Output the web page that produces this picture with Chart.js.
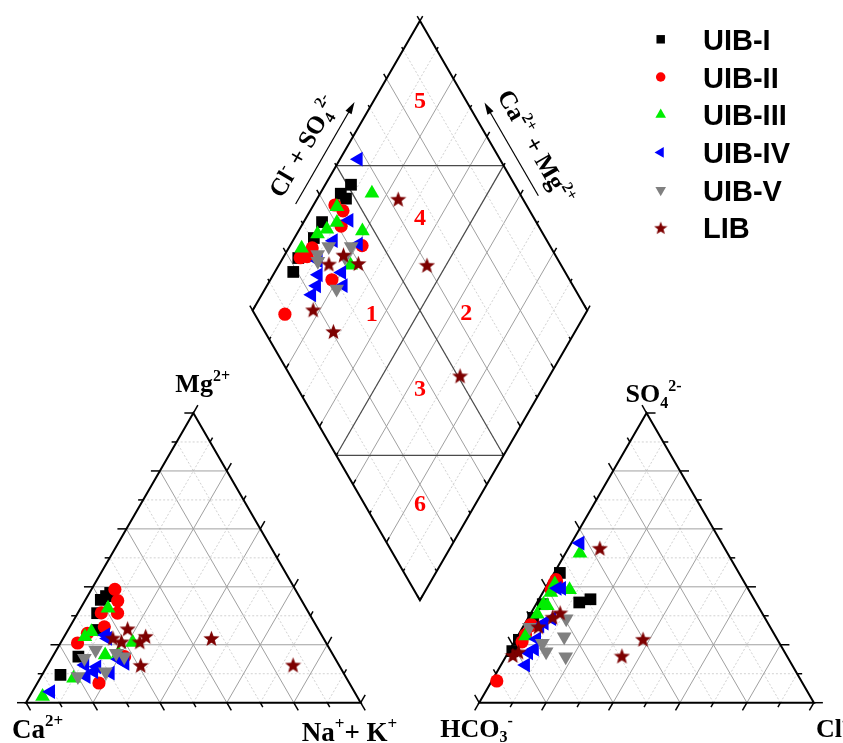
<!DOCTYPE html>
<html>
<head>
<meta charset="utf-8">
<title>Piper diagram</title>
<script src="https://cdn.jsdelivr.net/npm/chart.js@4.4.1/dist/chart.umd.min.js"></script>
<style>
  html, body { margin: 0; padding: 0; background: #fff; }
  canvas { display: block; }
</style>
</head>
<body>
<canvas id="piper" width="843" height="743"></canvas>
<script>
// Piper diagram - cations left, anions right, diamond on top
// values in % meq/L, Ca and HCO3 are what is left to 100

const groupNames = ['UIB-I', 'UIB-II', 'UIB-III', 'UIB-IV', 'UIB-V', 'LIB'];

// UIB-I
const mgI  = [15.9, 25.1, 37.9, 36.8, 30.9, 35.5, 9.6];
const nakI = [7.7, 8.6, 6.2, 5.5, 5.8, 4.6, 5.5];
const so4I = [35.7, 34.6, 44.8, 34.0, 29.3, 21.7, 17.8];
const clI  = [15.4, 12.6, 1.7, 2.0, 1.5, 1.0, 1.0];

// UIB-II
const mgII  = [23.9, 35.2, 30.9, 15.9, 31.0, 39.1, 6.8, 20.6, 26.2];
const nakII = [6.4, 9.8, 11.9, 21.5, 7.0, 7.0, 18.4, 5.1, 10.3];
const so4II = [41.0, 42.5, 39.0, 41.5, 23.5, 26.5, 27.0, 21.0, 7.5];
const clII  = [1.8, 1.7, 2.0, 2.4, 2.1, 2.1, 2.0, 2.3, 1.5];

// UIB-III
const mgIII  = [16.5, 24.5, 8.4, 32.6, 22.8, 17.0, 2.1, 20.8];
const nakIII = [15.4, 7.3, 10.0, 8.2, 6.2, 19.1, 3.9, 21.5];
const so4III = [51.6, 41.0, 38.0, 34.0, 30.5, 39.0, 23.0, 33.5];
const clIII  = [4.3, 2.1, 2.4, 2.2, 2.1, 7.5, 2.4, 3.6];

// UIB-IV
const mgIV  = [3.8, 22.2, 23.4, 13.0, 9.0, 10.7, 12.4, 10.2, 13.6, 15.0];
const nakIV = [5.5, 13.3, 12.1, 11.1, 13.5, 14.9, 15.0, 20.1, 22.8, 20.2];
const so4IV = [55.1, 39.5, 29.0, 22.0, 18.5, 17.2, 13.0, 27.5, 26.5, 39.5];
const clIV  = [2.6, 4.9, 7.2, 6.2, 7.3, 6.2, 7.4, 5.7, 4.9, 3.6];

// UIB-V
const mgV  = [18.2, 15.3, 17.1, 15.9, 10.7, 9.0];
const nakV = [11.7, 9.8, 18.4, 21.4, 18.4, 11.0];
const so4V = [15.9, 20.5, 29.0, 17.6, 22.8, 26.0];
const clV  = [17.9, 8.6, 11.5, 11.2, 14.0, 2.0];

// LIB
const mgL  = [22.9, 22.2, 21.0, 25.5, 22.3, 21.0, 12.9, 13.0];
const nakL = [24.3, 44.3, 23.5, 17.6, 14.8, 18.0, 27.8, 73.3];
const so4L = [53.3, 21.9, 31.0, 29.5, 26.2, 16.3, 17.5, 16.1];
const clL  = [9.4, 38.0, 8.7, 7.2, 4.6, 1.9, 3.0, 34.6];

// geometry in diagram units (triangle side = 100)
const S = Math.sqrt(3) / 2;
const GAP = 35.4;
const AX = 100 + GAP;          // left corner of anion triangle
const BX = 100 + GAP / 2;      // bottom corner of diamond
const BY = GAP * S;

const cat = (mg, nak) => ({ x: nak + mg / 2, y: mg * S });
const ani = (so4, cl) => ({ x: AX + cl + so4 / 2, y: so4 * S });
const dia = (cm, cs) => ({ x: BX + (cs - cm) / 2, y: BY + (cs + cm) * S });

const piperPoints = (mg, nak, so4, cl) => {
    let pts = [];
    mg.forEach((m, i) => {
        pts.push(cat(m, nak[i]));
        pts.push(ani(so4[i], cl[i]));
        pts.push(dia(100 - nak[i], so4[i] + cl[i]));
    });
    return pts;
}

// star marker for LIB
const makeStar = (size, color) => {
    const c = document.createElement('canvas');
    c.width = size; c.height = size;
    const g = c.getContext('2d');
    g.fillStyle = color;
    g.beginPath();
    for (let k = 0; k < 10; k++) {
        const r = k % 2 ? size * 0.21 : size * 0.5;
        const a = -Math.PI / 2 + k * Math.PI / 5;
        const px = size / 2 + r * Math.cos(a), py = size / 2 + 0.7 + r * Math.sin(a);
        k === 0 ? g.moveTo(px, py) : g.lineTo(px, py);
    }
    g.closePath();
    g.fill();
    return c;
}
const star = makeStar(17, '#7d0000');
const starSmall = makeStar(14, '#7d0000');

const styles = [
    { color: '#000000', pointStyle: 'rect', radius: 8.3, rotation: 0 },
    { color: '#ff0000', pointStyle: 'circle', radius: 6.6, rotation: 0 },
    { color: '#00ee00', pointStyle: 'triangle', radius: 8.5, rotation: 0 },
    { color: '#0000ff', pointStyle: 'triangle', radius: 8.5, rotation: -90 },
    { color: '#808080', pointStyle: 'triangle', radius: 8.5, rotation: 180 },
    { color: '#7d0000', pointStyle: star, radius: 8.5, rotation: 0 }
];

const groupData = [
    piperPoints(mgI, nakI, so4I, clI),
    piperPoints(mgII, nakII, so4II, clII),
    piperPoints(mgIII, nakIII, so4III, clIII),
    piperPoints(mgIV, nakIV, so4IV, clIV),
    piperPoints(mgV, nakV, so4V, clV),
    piperPoints(mgL, nakL, so4L, clL)
];

const datasets = groupNames.map((name, i) => ({
    label: name,
    data: groupData[i],
    backgroundColor: styles[i].color,
    borderColor: styles[i].color,
    borderWidth: 0,
    pointStyle: styles[i].pointStyle,
    pointRadius: styles[i].radius,
    pointRotation: styles[i].rotation,
    order: 6 - i
}));

const serif = '"Liberation Serif", "Times New Roman", serif';

// text with super/subscripts, parts = [text, 1 sup | -1 sub | 0]
const drawRich = (ctx, parts, x, y, size, align) => {
    const fontOf = (m) => 'bold ' + (m ? Math.round(size * 0.62) : size) + 'px ' + serif;
    let w = 0;
    parts.forEach(p => { ctx.font = fontOf(p[1]); w += ctx.measureText(p[0]).width; });
    let cx = align === 'center' ? x - w / 2 : x;
    ctx.textAlign = 'left';
    ctx.textBaseline = 'alphabetic';
    parts.forEach(p => {
        ctx.font = fontOf(p[1]);
        const dy = p[1] === 1 ? -size * 0.42 : (p[1] === -1 ? size * 0.22 : 0);
        ctx.fillText(p[0], cx, y + dy);
        cx += ctx.measureText(p[0]).width;
    });
}

const piperFrame = {
    id: 'piperFrame',
    beforeDraw(chart) {
        const ctx = chart.ctx;
        ctx.save();
        ctx.fillStyle = '#fff';
        ctx.fillRect(0, 0, chart.width, chart.height);
        ctx.restore();
    },
    beforeDatasetsDraw(chart) {
        const ctx = chart.ctx;
        const xs = chart.scales.x, ys = chart.scales.y;
        const P = (p) => [xs.getPixelForValue(p.x), ys.getPixelForValue(p.y)];
        const line = (a, b) => {
            const pa = P(a), pb = P(b);
            ctx.beginPath();
            ctx.moveTo(pa[0], pa[1]);
            ctx.lineTo(pb[0], pb[1]);
            ctx.stroke();
        }
        const setGrid = (major) => {
            ctx.strokeStyle = major ? '#a0a0a0' : '#d2d2d2';
            ctx.lineWidth = 1;
            ctx.setLineDash(major ? [] : [2, 2]);
        }
        ctx.save();
        // grids
        for (let i = 10; i < 100; i += 10) {
            setGrid(i % 20 === 0);
            line(cat(i, 0), cat(i, 100 - i));
            line(cat(0, i), cat(100 - i, i));
            line(cat(0, 100 - i), cat(100 - i, 0));
            line(ani(i, 0), ani(i, 100 - i));
            line(ani(0, i), ani(100 - i, i));
            line(ani(0, 100 - i), ani(100 - i, 0));
            line(dia(i, 0), dia(i, 100));
            line(dia(0, i), dia(100, i));
        }
        ctx.setLineDash([]);
        // zone lines in the diamond
        ctx.strokeStyle = '#4a4a4a';
        ctx.lineWidth = 1.2;
        line(dia(50, 0), dia(50, 100));
        line(dia(0, 50), dia(100, 50));
        line(dia(100, 50), dia(50, 100));
        line(dia(50, 0), dia(0, 50));

        // ticks
        ctx.strokeStyle = '#000';
        ctx.lineWidth = 1.5;
        const tick = (p, dx, dy, len) => {
            const pp = P(p);
            ctx.beginPath();
            ctx.moveTo(pp[0], pp[1]);
            ctx.lineTo(pp[0] + dx * len, pp[1] + dy * len);
            ctx.stroke();
        }
        for (let i = 0; i <= 100; i += 10) {
            const big = i % 20 === 0;
            const tl = big ? 9 : 5, dl = big ? 5.5 : 3;
            tick(cat(0, i), 0.5, S, tl);
            tick(cat(i, 0), -1, 0, tl);
            tick(cat(i, 100 - i), 0.5, -S, tl);
            tick(ani(0, i), -0.5, S, tl);
            tick(ani(i, 0), -0.5, -S, tl);
            tick(ani(i, 100 - i), 1, 0, tl);
            tick(dia(100, i), -0.5, -S, dl);
            tick(dia(i, 100), 0.5, -S, dl);
            tick(dia(i, 0), 0.5, -S, dl);
            tick(dia(0, i), -0.5, -S, dl);
        }
        // outlines
        ctx.lineWidth = 2;
        const poly = (pts) => {
            ctx.beginPath();
            pts.forEach((p, k) => { const pp = P(p); k ? ctx.lineTo(pp[0], pp[1]) : ctx.moveTo(pp[0], pp[1]); });
            ctx.closePath();
            ctx.stroke();
        }
        poly([cat(0, 0), cat(0, 100), cat(100, 0)]);
        poly([ani(0, 0), ani(0, 100), ani(100, 0)]);
        poly([dia(0, 0), dia(100, 0), dia(100, 100), dia(0, 100)]);
        ctx.restore();
    },
    afterDraw(chart) {
        const ctx = chart.ctx;
        const xs = chart.scales.x, ys = chart.scales.y;
        const P = (p) => [xs.getPixelForValue(p.x), ys.getPixelForValue(p.y)];
        ctx.save();
        ctx.fillStyle = '#000';
        ctx.strokeStyle = '#000';

        // corner labels
        const ca = P(cat(0, 0)), na = P(cat(0, 100)), mg = P(cat(100, 0));
        const hc = P(ani(0, 0)), cl = P(ani(0, 100)), so = P(ani(100, 0));
        drawRich(ctx, [['Mg', 0], ['2+', 1]], mg[0] - 18, mg[1] - 21, 26, 'left');
        drawRich(ctx, [['Ca', 0], ['2+', 1]], ca[0] - 14, ca[1] + 35, 27, 'left');
        drawRich(ctx, [['Na', 0], ['+', 1], ['+ K', 0], ['+', 1]], na[0] - 59, na[1] + 38, 27, 'left');
        drawRich(ctx, [['SO', 0], ['4', -1], ['2-', 1]], so[0] - 21, so[1] - 11, 26, 'left');
        drawRich(ctx, [['HCO', 0], ['3', -1], ['-', 1]], hc[0] - 39, hc[1] + 34, 26, 'left');
        drawRich(ctx, [['Cl', 0], ['-', 1]], cl[0] + 2, cl[1] + 34, 26, 'left');

        // diamond side labels with arrows
        const L = P(dia(100, 0)), T = P(dia(100, 100)), R = P(dia(0, 100));
        const side = (A, B, sgn, parts, txtOff, arOff, f0, f1) => {
            const len = Math.hypot(B[0] - A[0], B[1] - A[1]);
            const u = [(B[0] - A[0]) / len, (B[1] - A[1]) / len];
            const n = sgn > 0 ? [u[1], -u[0]] : [-u[1], u[0]];
            const at = (f, off) => [A[0] + u[0] * len * f + n[0] * off, A[1] + u[1] * len * f + n[1] * off];
            // arrow
            const a0 = at(f0, arOff), a1 = at(f1, arOff);
            ctx.lineWidth = 1.2;
            ctx.beginPath();
            ctx.moveTo(a0[0], a0[1]);
            ctx.lineTo(a1[0], a1[1]);
            ctx.stroke();
            ctx.beginPath();
            ctx.moveTo(a1[0] + u[0] * 4, a1[1] + u[1] * 4);
            ctx.lineTo(a1[0] - u[0] * 8 + n[0] * 3.5, a1[1] - u[1] * 8 + n[1] * 3.5);
            ctx.lineTo(a1[0] - u[0] * 8 - n[0] * 3.5, a1[1] - u[1] * 8 - n[1] * 3.5);
            ctx.closePath();
            ctx.fill();
            // text
            const c = at(0.5, txtOff);
            const ang = sgn > 0 ? Math.atan2(u[1], u[0]) : Math.atan2(-u[1], -u[0]);
            ctx.save();
            ctx.translate(c[0], c[1]);
            ctx.rotate(ang);
            drawRich(ctx, parts, 0, 8, 25, 'center');
            ctx.restore();
        }
        side(L, T, 1, [['Cl', 0], ['-', 1], [' + SO', 0], ['4', -1], ['2-', 1]], 38, 16, 0.34, 0.68);
        side(R, T, -1, [['Ca', 0], ['2+', 1], [' + Mg', 0], ['2+', 1]], 37, 15, 0.37, 0.68);

        // zone numbers
        ctx.fillStyle = '#ff0000';
        ctx.font = 'bold 24px ' + serif;
        ctx.textAlign = 'center';
        ctx.textBaseline = 'alphabetic';
        const zones = [['5', 86.3, 86.3], ['4', 66.1, 66.1], ['1', 63.9, 35.1],
                       ['2', 36.0, 63.6], ['3', 36.6, 36.6], ['6', 16.7, 16.7]];
        zones.forEach(z => {
            const p = P(dia(z[1], z[2]));
            ctx.fillText(z[0], p[0], p[1] + 8);
        });

        // legend
        const drawPoint = Chart.helpers && Chart.helpers.drawPoint;
        groupNames.forEach((name, i) => {
            const y = 39.3 + i * 37.7;
            ctx.fillStyle = styles[i].color;
            if (drawPoint) {
                drawPoint(ctx, {
                    pointStyle: i === 5 ? starSmall : styles[i].pointStyle,
                    rotation: styles[i].rotation,
                    radius: styles[i].radius * 0.72,
                    borderWidth: 0
                }, 660.7, y);
            }
            ctx.fillStyle = '#000';
            ctx.font = 'bold 29px "Liberation Sans", Arial, sans-serif';
            ctx.textAlign = 'left';
            ctx.fillText(name, 703, y + 10.5);
        });
        ctx.restore();
    }
};

const piperChart = new Chart(document.getElementById('piper'), {
    type: 'scatter',
    data: { datasets: datasets },
    options: {
        responsive: false,
        animation: false,
        layout: { padding: 0, autoPadding: false },
        plugins: { legend: { display: false }, tooltip: { enabled: false } },
        scales: {
            x: { type: 'linear', min: -7.77, max: 244.1, display: false },
            y: { type: 'linear', min: -12.05, max: 210.07, display: false }
        }
    },
    plugins: [piperFrame]
});
</script>
</body>
</html>
